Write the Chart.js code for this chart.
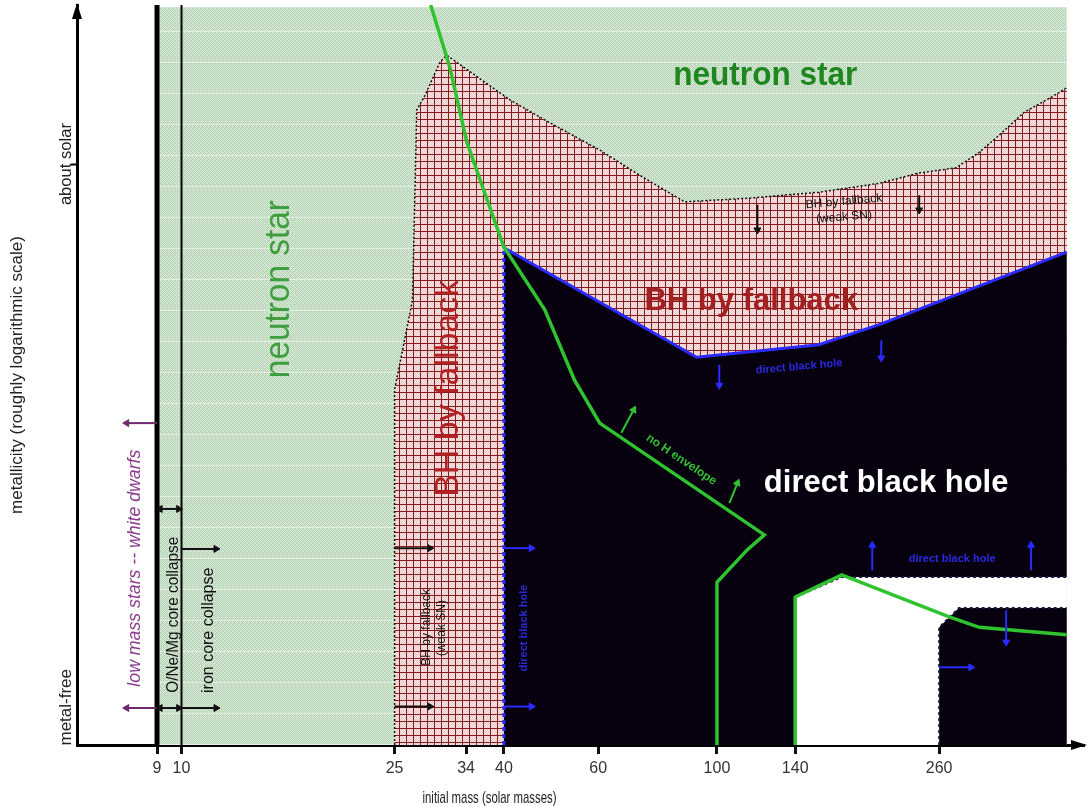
<!DOCTYPE html>
<html>
<head>
<meta charset="utf-8">
<title>Remnants of massive single stars</title>
<script src="https://cdn.jsdelivr.net/npm/chart.js@4.4.1/dist/chart.umd.min.js"></script>
<style>
    html, body { margin: 0; padding: 0; background: #fff; }
    #wrap { width: 1089px; height: 807px; }
</style>
</head>
<body>
<div id="wrap"><canvas id="chart" width="1089" height="807"></canvas></div>
<script>
// x = initial mass (solar masses, log axis), z = metallicity level (0 = metal-free, 100 = top)
const massTicks = [9, 10, 25, 34, 40, 60, 100, 140, 260];
const massAxisRange = [6.38, 484.7];
const solarLevel = 78.5;
const metalFreeLevel = 5.1;
const plotTop = 99.7;
const massRight = 450;

// neutron star | BH by fallback boundary
const fallbackEdgeMass = [25, 25, 27.0, 27.5, 28.5, 30.4, 31.3, 41.0, 48.7, 60.4, 71.7, 87.0, 115, 155, 201, 238.6, 279.7, 309, 336.5, 374.8, 422.6, 450];
const fallbackEdgeZ = [0, 48.0, 60.1, 85.8, 87.8, 92.3, 93.2, 87.2, 84.1, 80.4, 77.0, 73.4, 73.9, 74.7, 75.9, 77.3, 78.0, 80.1, 82.4, 85.5, 87.6, 88.8];

// BH by fallback | direct black hole boundary
const directEdgeMass = [40, 40, 91.6, 155, 201, 450];
const directEdgeZ = [0, 67.2, 52.4, 54.1, 56.8, 66.6];

// pair instability gap (no remnant)
const gapOuterMass = [140, 140, 171, 450];
const gapOuterZ = [0, 20.0, 22.7, 22.7];
const gapInnerMass = [260, 260, 283, 450];
const gapInnerZ = [0, 15.9, 18.5, 18.5];

// loss of the hydrogen envelope
const noHMass = [29.2, 31.7, 34.1, 36.5, 40, 47.7, 54.2, 60.4, 122.6, 114, 100, 100];
const noHZ = [100, 91.6, 81.5, 75.4, 67.3, 58.8, 49.3, 43.5, 28.4, 26.4, 22.0, 0];
const noH2Mass = [140, 140, 171, 271.5, 309, 450];
const noH2Z = [0, 20.0, 23.0, 17.3, 15.9, 14.9];

// arrows: [mass from, z from, mass to, z to, both heads]
const purpleArrows = [[9, 43.5, 7.9, 43.5, false], [9, 5.0, 7.9, 5.0, false]];
const blackArrows = [
    [9.12, 31.9, 9.88, 31.9, true], [9.12, 5.0, 9.88, 5.0, true],
    [10, 26.5, 11.6, 26.5, false], [10, 5.0, 11.6, 5.0, false],
    [25, 26.6, 29.1, 26.6, false], [25, 5.2, 29.1, 5.2, false],
    [119, 73.0, 119, 69.6, false], [238.6, 74.3, 238.6, 72.3, false]
];
const blueArrows = [
    [40, 26.6, 45, 26.6, false], [40, 5.2, 45, 5.2, false],
    [101, 51.4, 101, 48.6, false], [202.7, 54.7, 202.7, 52.3, false],
    [195, 23.6, 195, 27.0, false], [386, 23.6, 386, 27.0, false],
    [260, 10.5, 298, 10.5, false], [346.8, 18.2, 346.8, 13.9, false]
];
const greenArrows = [[66.3, 42.2, 69.9, 45.3, false], [105.5, 32.7, 109.2, 35.4, false]];

const FONT = '"Liberation Sans", Arial, sans-serif';
const NARROW = '"Liberation Sans Narrow", "Liberation Sans", Arial, sans-serif';

const notes = [
    { text: 'neutron star', mass: 123.1, z: 89.2, rot: 0, font: 'bold 33px', color: '#1f871f', w: 184 },
    { text: 'neutron star', mass: 15.9, z: 61.6, rot: -90, font: '35px', color: '#3e9e3e', w: 178 },
    { text: 'BH by fallback', mass: 115.9, z: 58.8, rot: 0, font: 'bold 31px', color: '#a32020', w: 220 },
    { text: 'BH by fallback', mass: 32.8, z: 48.2, rot: -90, font: '34px', color: '#b22222', w: 217 },
    { text: 'direct black hole', mass: 207, z: 34.2, rot: 0, font: 'bold 31px', color: '#ffffff', w: 250 },
    { text: 'low mass stars -- white dwarfs', mass: 8.37, z: 23.9, rot: -90, font: 'italic 18px', color: '#8b3a8b', w: 237 },
    { text: 'O/Ne/Mg core collapse', mass: 9.85, z: 17.6, rot: -90, font: '16px', color: '#111', w: 156 },
    { text: 'iron core collapse', mass: 11.45, z: 15.5, rot: -90, font: '16px', color: '#111', w: 135 },
    { text: 'BH by fallback', mass: 29.1, z: 15.9, rot: -90, font: '12px', color: '#111', w: 107 },
    { text: '(weak SN)', mass: 31.0, z: 15.8, rot: -90, font: '12px', color: '#111', w: 70 },
    { text: 'direct black hole', mass: 44.1, z: 15.8, rot: -90, font: 'bold 11px', color: '#2a2ad8', w: 125 },
    { text: 'BH by fallback', mass: 172.9, z: 73.0, rot: -5, font: '12px', color: '#111', w: 110 },
    { text: '(weak SN)', mass: 172.9, z: 70.9, rot: -5, font: '12px', color: '#111', w: 69 },
    { text: 'direct black hole', mass: 142.5, z: 50.7, rot: -5, font: 'bold 11px', color: '#2a2ae0', w: 120 },
    { text: 'direct black hole', mass: 275, z: 24.7, rot: 0, font: 'bold 11px', color: '#2a2ae0', w: 125 },
    { text: 'no H envelope', mass: 85.1, z: 38.2, rot: 34, font: 'bold 12px', color: '#33c033', w: 112 }
];

const pts = (ms, zs) => ms.map((m, i) => ({ x: m, y: zs[i] }));

function tile(w, h, paint) {
    const c = document.createElement('canvas');
    c.width = w;
    c.height = h;
    const g = c.getContext('2d');
    paint(g);
    return g.createPattern(c, 'repeat');
}

const greenHatch = tile(8, 31, (g) => {
    g.fillStyle = '#d2e6d2';
    g.fillRect(0, 0, 8, 31);
    g.fillStyle = '#b3d0b3';
    for (let y = 0; y < 31; y++) {
        for (let x = 0; x < 8; x++) {
            if ((x + y) % 4 === 0 || (x - y + 32) % 4 === 0) g.fillRect(x, y, 1, 1);
        }
    }
    g.fillStyle = '#e3efe3';
    g.fillRect(0, 0, 8, 1);
});

const redGrid = tile(7, 7, (g) => {
    g.fillStyle = '#f7e6e6';
    g.fillRect(0, 0, 7, 7);
    g.fillStyle = '#ecc9c9';
    for (let y = 0; y < 7; y++) {
        for (let x = 0; x < 7; x++) {
            if ((x + y) % 2 === 0) g.fillRect(x, y, 1, 1);
        }
    }
    g.fillStyle = '#861a1c';
    g.fillRect(0, 0, 1, 7);
    g.fillRect(0, 0, 7, 1);
});

function area(points, fillStyle) {
    return { data: points, fill: 'shape', backgroundColor: fillStyle, borderWidth: 0, borderColor: 'rgba(0,0,0,0)', pointRadius: 0 };
}

function stroke(points, color, width, dash) {
    return { data: points, fill: false, borderColor: color, borderWidth: width, borderDash: dash || [], pointRadius: 0 };
}

function headAngle(c) {
    const xs = c.chart.scales.x;
    const ys = c.chart.scales.y;
    const d = c.dataset.data;
    const j = c.dataIndex === 0 ? 1 : 0;
    const dx = xs.getPixelForValue(d[c.dataIndex].x) - xs.getPixelForValue(d[j].x);
    const dy = ys.getPixelForValue(d[c.dataIndex].y) - ys.getPixelForValue(d[j].y);
    return Math.atan2(dx, -dy) * 180 / Math.PI;
}

function arrow(a, color) {
    return {
        data: [{ x: a[0], y: a[1] }, { x: a[2], y: a[3] }],
        fill: false,
        borderColor: color,
        borderWidth: 2,
        pointStyle: 'triangle',
        pointRadius: [a[4] ? 4 : 0, 4],
        pointRotation: headAngle,
        pointBackgroundColor: color,
        pointBorderColor: color,
        pointBorderWidth: 1
    };
}

const edgeFallback = pts(fallbackEdgeMass, fallbackEdgeZ);
const edgeDirect = pts(directEdgeMass, directEdgeZ);
const edgeGapOuter = pts(gapOuterMass, gapOuterZ);
const edgeGapInner = pts(gapInnerMass, gapInnerZ);

const layers = [
    area([{ x: 9, y: 0 }, { x: 9, y: plotTop }, { x: massRight, y: plotTop }, { x: massRight, y: 0 }], greenHatch),
    area(edgeFallback.concat(edgeDirect.slice().reverse()), redGrid),
    area([{ x: 140, y: 0 }, { x: 140, y: 22.7 }, { x: massRight, y: 22.7 }, { x: massRight, y: 0 }], '#ffffff'),
    area(edgeDirect.concat(edgeGapOuter.slice().reverse()), '#06000f'),
    area(edgeGapInner.concat([{ x: massRight, y: 0 }]), '#06000f'),
    stroke(edgeFallback, '#111111', 1.5, [2, 2]),
    Object.assign(stroke(edgeDirect, '#2b2bff', 3), {
        segment: { borderDash: (c) => (c.p0DataIndex === 0 ? [4, 3] : undefined) }
    }),
    stroke(edgeGapOuter, '#1a1a40', 2, [3, 3]),
    stroke(edgeGapInner, '#1a1a40', 2, [3, 3]),
    stroke([{ x: 9, y: 0 }, { x: 9, y: 100 }], '#000000', 5),
    stroke([{ x: 10, y: 0 }, { x: 10, y: 100 }], '#000000', 2),
    stroke(pts(noHMass, noHZ), '#2fc42f', 3.5),
    stroke(pts(noH2Mass, noH2Z), '#2fc42f', 3.5)
]
    .concat(purpleArrows.map((a) => arrow(a, '#6e2a6e')))
    .concat(blackArrows.map((a) => arrow(a, '#111111')))
    .concat(blueArrows.map((a) => arrow(a, '#2b2bff')))
    .concat(greenArrows.map((a) => arrow(a, '#2fc42f')));

layers.forEach((ds, i) => { ds.order = layers.length - i; });

const decor = {
    id: 'decor',
    afterDatasetsDraw(chart) {
        const { ctx, scales: { x, y } } = chart;
        notes.forEach((n) => {
            ctx.save();
            ctx.translate(x.getPixelForValue(n.mass), y.getPixelForValue(n.z));
            ctx.rotate(n.rot * Math.PI / 180);
            ctx.font = n.font + ' ' + FONT;
            ctx.fillStyle = n.color;
            ctx.textAlign = 'center';
            ctx.textBaseline = 'alphabetic';
            ctx.fillText(n.text, 0, 0, n.w);
            ctx.restore();
        });
    },
    afterDraw(chart) {
        const { ctx, chartArea: area, scales: { x, y } } = chart;
        ctx.save();
        ctx.fillStyle = '#000';
        // axis arrow heads
        ctx.beginPath();
        ctx.moveTo(area.left, area.top - 2);
        ctx.lineTo(area.left - 5, area.top + 14);
        ctx.lineTo(area.left + 5, area.top + 14);
        ctx.closePath();
        ctx.fill();
        ctx.beginPath();
        ctx.moveTo(area.right + 3, area.bottom);
        ctx.lineTo(area.right - 13, area.bottom - 5);
        ctx.lineTo(area.right - 13, area.bottom + 5);
        ctx.closePath();
        ctx.fill();

        ctx.fillStyle = '#222';
        ctx.textAlign = 'center';
        ctx.textBaseline = 'alphabetic';
        ctx.font = '17px ' + FONT;
        [['about solar', solarLevel, 82], ['metal-free', metalFreeLevel, 80]].forEach(([t, z, w]) => {
            ctx.save();
            ctx.translate(area.left - 6, y.getPixelForValue(z));
            ctx.rotate(-Math.PI / 2);
            ctx.fillText(t, 0, 0, w);
            ctx.restore();
        });
        ctx.fillText('initial mass (solar masses)', x.getPixelForValue(37.6), 803, 134);
        ctx.restore();
    }
};

new Chart(document.getElementById('chart'), {
    type: 'line',
    data: { datasets: layers },
    options: {
        responsive: false,
        animation: false,
        events: [],
        layout: { padding: { top: 5, right: 4, left: 0, bottom: 0 } },
        elements: { line: { tension: 0 }, point: { radius: 0 } },
        plugins: {
            legend: { display: false },
            tooltip: { enabled: false },
            title: { display: false }
        },
        scales: {
            x: {
                type: 'logarithmic',
                min: massAxisRange[0],
                max: massAxisRange[1],
                bounds: 'data',
                z: 1,
                afterFit: (s) => { s.height = 62; },
                afterBuildTicks: (s) => { s.ticks = massTicks.map((v) => ({ value: v })); },
                ticks: {
                    autoSkip: false,
                    maxRotation: 0,
                    padding: 5,
                    color: '#333',
                    font: { family: NARROW, size: 16 },
                    callback: (v) => String(v)
                },
                grid: { display: true, drawOnChartArea: false, drawTicks: true, tickLength: 9, tickWidth: 3, tickColor: '#111' },
                border: { display: true, color: '#000', width: 3 }
            },
            y: {
                type: 'linear',
                min: 0,
                max: 100,
                z: 1,
                afterFit: (s) => { s.width = 77; },
                afterBuildTicks: (s) => { s.ticks = [{ value: solarLevel }]; },
                ticks: { display: false },
                grid: { display: true, drawOnChartArea: false, drawTicks: true, tickLength: 6, tickWidth: 2, tickColor: '#000' },
                border: { display: true, color: '#000', width: 3 },
                title: {
                    display: true,
                    text: 'metallicity (roughly logarithmic scale)',
                    color: '#222',
                    font: { family: FONT, size: 17 },
                    padding: { top: 7, bottom: 0 }
                }
            }
        }
    },
    plugins: [decor]
});
</script>
</body>
</html>
